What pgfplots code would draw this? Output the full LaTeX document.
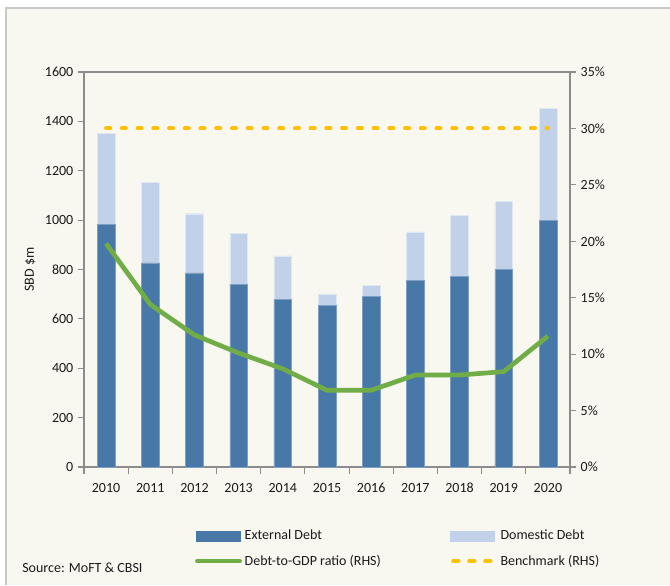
\documentclass[border=0pt]{standalone}
\usepackage{fontspec}
\setmainfont{Carlito}
\usepackage{pgfplots}
\pgfplotsset{compat=1.18}
\definecolor{bgc}{HTML}{F8F7F0}
\definecolor{framec}{HTML}{C8C8C8}
\definecolor{axc}{HTML}{8C8C8C}
\definecolor{extc}{HTML}{4878A8}
\definecolor{domc}{HTML}{C2D1EA}
\definecolor{ratioc}{HTML}{70AD47}
\definecolor{benchc}{HTML}{FFC000}
\definecolor{txtc}{HTML}{1A1A1A}

\pgfplotstableread{
year ext dom ratio
0 984 368 0.198
1 827 325 0.144
2 786 240 0.117
3 741 205 0.101
4 680 175 0.087
5 656 45 0.068
6 691 45 0.068
7 757 195 0.0815
8 771 247 0.0815
9 802 275 0.0845
10 1000 454 0.116
}\debt

\begin{document}
\begin{tikzpicture}
\begin{scope}[x=0.75pt,y=0.75pt]
\useasboundingbox (0,0) rectangle (670,585);
\fill[white] (0,0) rectangle (670,585);
\fill[bgc] (6,0) rectangle (670,577);
\draw[framec,line width=1pt] (6,0) -- (6,577) -- (670,577);
\node[anchor=west,font=\fontsize{10.5}{12}\selectfont,text=txtc,inner sep=0pt] at (22,17) {Source: MoFT \& CBSI};
\end{scope}

\begin{axis}[
  at={(63pt,88.5pt)}, anchor=south west,
  scale only axis,
  width=364.5pt, height=296.25pt,
  xmin=-0.5, xmax=10.5,
  ymin=0, ymax=1600,
  ytick={0,200,...,1600},
  xtick={0,...,10},
  xticklabels={2010,2011,2012,2013,2014,2015,2016,2017,2018,2019,2020},
  minor xtick={-0.5,0.5,...,10.5},
  major x tick style={draw=none},
  minor tick length=5pt,
  major tick length=4.5pt,
  tick align=outside,
  xtick pos=bottom, ytick pos=left,
  axis line style={draw=axc,line width=0.8pt},
  every tick/.style={draw=axc,line width=0.8pt},
  tick label style={font=\fontsize{10.5}{12}\selectfont,text=txtc},
  /pgf/number format/assume math mode=true,
  yticklabel style={/pgf/number format/1000 sep={}},
  xticklabel style={yshift=-4pt},
  ylabel={SBD \$m},
  ylabel style={font=\fontsize{10.5}{12}\selectfont,text=txtc,at={(axis description cs:-0.111,0.5)},anchor=center},
  ybar stacked, bar width=13.3pt,
  axis background/.style={fill=bgc},
]
\addplot[fill=extc,draw=extc!70!white,line width=0.3pt] table[x=year,y=ext]{\debt};
\addplot[fill=domc,draw=domc!50!white,line width=0.3pt] table[x=year,y=dom]{\debt};
\end{axis}

\begin{axis}[
  at={(63pt,88.5pt)}, anchor=south west,
  scale only axis,
  width=364.5pt, height=296.25pt,
  xmin=-0.5, xmax=10.5,
  ymin=0, ymax=0.35,
  axis x line=none,
  axis y line*=right,
  ytick={0,0.05,...,0.351},
  yticklabels={0\%,5\%,10\%,15\%,20\%,25\%,30\%,35\%},
  tick align=outside,
  major tick length=4.5pt,
  axis line style={draw=axc,line width=0.8pt},
  every tick/.style={draw=axc,line width=0.8pt},
  tick label style={font=\fontsize{10.5}{12}\selectfont,text=txtc},
  legend columns=2,
  legend cell align=left,
  legend style={at={(axis description cs:0.228,-0.152)},anchor=north west,
    draw=none,fill=none,font=\fontsize{10.5}{12}\selectfont,text=txtc,
    row sep=6pt,inner sep=0pt,
    /tikz/every even column/.append style={column sep=50pt}},
]
\addlegendimage{legend image code/.code={\fill[extc] (0pt,-3.75pt) rectangle (33pt,3.75pt);}}
\addlegendentry{External Debt}
\addlegendimage{legend image code/.code={\fill[domc] (0pt,-3.75pt) rectangle (33pt,3.75pt);}}
\addlegendentry{Domestic Debt}
\addlegendimage{legend image code/.code={\draw[ratioc,line width=3.2pt,line cap=round] (1pt,0pt) -- (33pt,0pt);}}
\addlegendentry{Debt-to-GDP ratio (RHS)}
\addlegendimage{legend image code/.code={\draw[benchc,line width=3pt,line cap=round,dash pattern=on 4pt off 8pt] (2pt,0pt) -- (34pt,0pt);}}
\addlegendentry{Benchmark (RHS)}
\addplot[forget plot,ratioc,line width=3.5pt,line join=round] table[x=year,y=ratio]{\debt};
\addplot[forget plot,benchc,line width=3pt,line cap=round,dash pattern=on 3pt off 8.8pt]
  coordinates {(0,0.30) (1,0.30) (2,0.30) (3,0.30) (4,0.30) (5,0.30) (6,0.30) (7,0.30) (8,0.30) (9,0.30) (10,0.30)};
\end{axis}
\end{tikzpicture}
\end{document}
